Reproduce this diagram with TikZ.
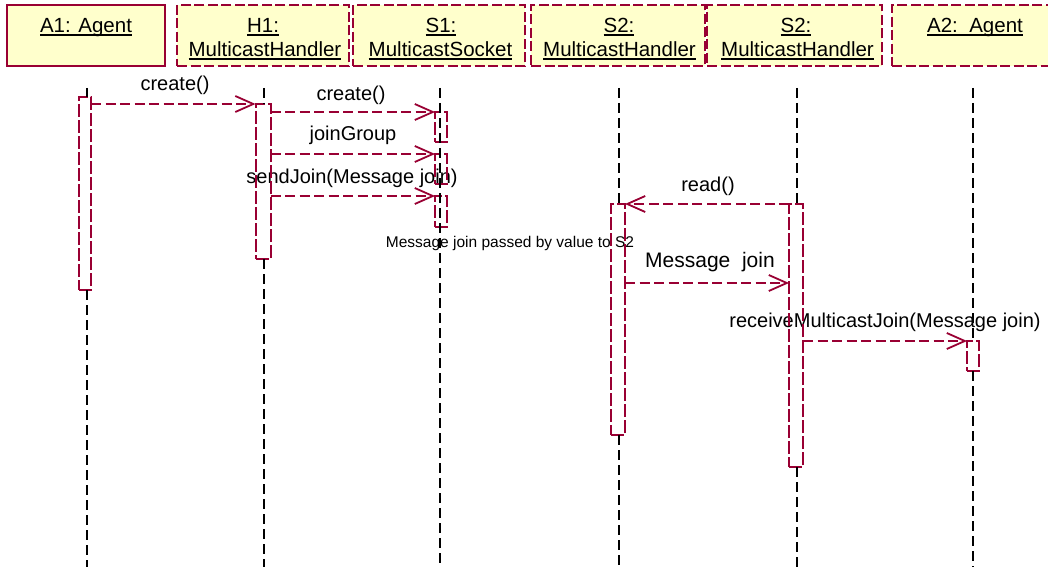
\documentclass[tikz,border=0pt]{standalone}
\usepackage{fontspec}
\setmainfont{Liberation Sans}
\usetikzlibrary{arrows.meta}
\definecolor{umlred}{RGB}{153,0,51}
\definecolor{umlfill}{RGB}{255,255,204}
% underlined object name with a fixed rule depth
\newcommand\objname[1]{{\setbox0\hbox{#1}\rlap{\rule[-3pt]{\wd0}{1.6pt}}\box0}}
\begin{document}
\begin{tikzpicture}[x=1pt,y=-1pt,
  every node/.style={inner sep=0pt, outer sep=0pt},
  objbox/.style={draw=umlred, fill=umlfill, line width=2pt},
  dashbox/.style={objbox, dash pattern=on 10pt off 3.5pt},
  objtext/.style={anchor=base, font=\fontsize{20.5}{24}\selectfont},
  life/.style={draw=black, line width=2pt, dash pattern=on 10pt off 5pt},
  act/.style={draw=umlred, line width=2pt, dash pattern=on 13pt off 3pt},
  msg/.style={draw=umlred, line width=1.8pt, dash pattern=on 10pt off 4.5pt,
    -{Straight Barb[length=18pt,width=16pt,line width=1.8pt]}},
  lbl/.style={anchor=base, font=\fontsize{20}{24}\selectfont},
  note/.style={anchor=base, font=\fontsize{15.5}{18}\selectfont}
]
\clip (0,0) rectangle (1048,567);
\fill[white] (0,0) rectangle (1048,567);

% object heads
\node[objbox,  minimum width=158pt, minimum height=61pt] (a1) at (86,35.5) {};
\node[dashbox, minimum width=172pt, minimum height=61pt] (h1) at (263,35.5) {};
\node[dashbox, minimum width=172pt, minimum height=61pt] (s1) at (439,35.5) {};
\node[dashbox, minimum width=174pt, minimum height=61pt] (s2a) at (618,35.5) {};
\node[dashbox, minimum width=175pt, minimum height=61pt] (s2b) at (794.5,35.5) {};
\node[dashbox, minimum width=166pt, minimum height=61pt] (a2) at (975,35.5) {};

\node[objtext] (a1n) at (86,33) {\objname{A1: Agent}};
\node[objtext] (h1n) at (263,33) {\objname{H1:}};
\node[objtext] (h1c) at (265,57) {\objname{MulticastHandler}};
\node[objtext] (s1n) at (441,33) {\objname{S1:}};
\node[objtext] (s1c) at (440.5,57) {\objname{MulticastSocket}};
\node[objtext] (s2an) at (619,33) {\objname{S2:}};
\node[objtext] (s2ac) at (619.5,57) {\objname{MulticastHandler}};
\node[objtext] (s2bn) at (796,33) {\objname{S2:}};
\node[objtext] (s2bc) at (797.5,57) {\objname{MulticastHandler}};
\node[objtext] (a2n) at (975,33) {\objname{A2:\ \ Agent}};

% message labels (lines are drawn over them)
\node[lbl] (m1) at (175,91) {create()};
\node[lbl] (m2) at (351,100) {create()};
\node[lbl] (m3) at (353,140) {joinGroup};
\node[lbl] (m4) at (352,183) {sendJoin(Message join)};
\node[note] (n1) at (510,247) {Message join passed by value to S2};
\node[lbl] (m5) at (708,191) {read()};
\node[lbl, font=\fontsize{21}{24}\selectfont] (m6) at (710,267) {Message\ \ join};
\node[lbl] (m7) at (885,327) {receiveMulticastJoin(Message join)};

% activations
\node[act, minimum width=12pt, minimum height=193pt] (a1act) at (85,193.5) {};
\node[act, minimum width=15pt, minimum height=155pt] (h1act) at (263,181.5) {};
\node[act, minimum width=12pt, minimum height=30pt] (s1a) at (441,127) {};
\node[act, minimum width=12pt, minimum height=30pt] (s1b) at (441,169) {};
\node[act, minimum width=12pt, minimum height=31pt] (s1c) at (441,211.5) {};
\node[act, minimum width=14pt, minimum height=231pt] (s2aact) at (618,319.5) {};
\node[act, minimum width=14pt, minimum height=263pt] (s2bact) at (796,335.5) {};
\node[act, minimum width=12pt, minimum height=30pt] (a2act) at (973,356) {};

% lifelines, broken off along each activation
\coordinate (a1top) at (87,88);   \coordinate (a1bot) at (87,567);
\coordinate (h1top) at (264,88);  \coordinate (h1bot) at (264,567);
\coordinate (s1top) at (440,88);  \coordinate (s1bot) at (440,567);
\coordinate (s2atop) at (619,88); \coordinate (s2abot) at (619,567);
\coordinate (s2btop) at (797,88); \coordinate (s2bbot) at (797,567);
\coordinate (a2top) at (973,88);  \coordinate (a2bot) at (973,567);
\draw[life] (s1top) -- (s1bot);
\foreach \l/\b in {a1/a1act, h1/h1act, s2a/s2aact, s2b/s2bact, a2/a2act}{
  \draw[life] (\l top) -- (\l top |- \b.north);
  \draw[life] (\l top |- \b.south) -- (\l bot);
}

% messages
\coordinate (mj) at (700,283);
\draw[msg] (a1act.east |- h1act.north) -- (h1act.north west);
\draw[msg] (h1act.east |- s1a.north) -- (s1a.north west);
\draw[msg] (h1act.east |- s1b.north) -- (s1b.north west);
\draw[msg] (h1act.east |- s1c.north) -- (s1c.north west);
\draw[msg] (s2bact.north west) -- (s2aact.north east);
\draw[msg] (s2aact.east |- mj) -- (s2bact.west |- mj);
\draw[msg] (s2bact.east |- a2act.north) -- (a2act.north west);
\end{tikzpicture}
\end{document}
